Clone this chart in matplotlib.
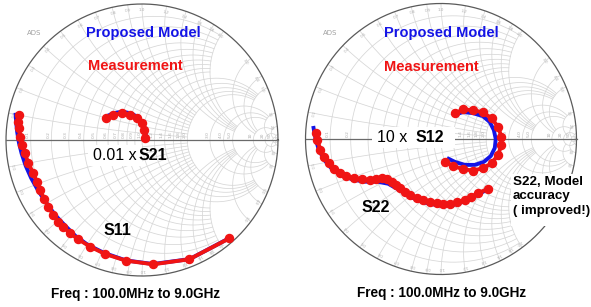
import numpy as np
import matplotlib
matplotlib.use('Agg')
import matplotlib.pyplot as plt
from matplotlib.patches import Rectangle

plt.rcParams['font.family'] = ['Liberation Sans', 'DejaVu Sans']

s11_meas_re = [-0.904, -0.910, -0.902, -0.897, -0.880, -0.860, -0.836, -0.799, -0.774, -0.750, -0.718, -0.689,
               -0.652, -0.615, -0.579, -0.529, -0.468, -0.382, -0.272, -0.118, 0.083, 0.348, 0.642]
s11_meas_im = [0.184, 0.135, 0.086, 0.024, -0.037, -0.098, -0.171, -0.245, -0.306, -0.368, -0.434, -0.490,
               -0.551, -0.601, -0.637, -0.686, -0.730, -0.784, -0.838, -0.887, -0.914, -0.877, -0.723]
s11_model_re = [-0.930, -0.925, -0.918, -0.905, -0.885, -0.855, -0.815, -0.765, -0.705, -0.640, -0.570, -0.490,
                -0.400, -0.280, -0.120, 0.080, 0.350, 0.645]
s11_model_im = [0.200, 0.130, 0.060, -0.020, -0.100, -0.190, -0.280, -0.370, -0.460, -0.550, -0.625, -0.705,
                -0.770, -0.830, -0.885, -0.912, -0.876, -0.720]

s21_meas_re = [-0.265, -0.211, -0.149, -0.088, -0.039, -0.002, 0.015, 0.022]
s21_meas_im = [0.160, 0.184, 0.196, 0.184, 0.160, 0.123, 0.074, 0.013]
s21_model_re = [-0.270, -0.210, -0.145, -0.080, -0.030, 0.005, 0.025, 0.030]
s21_model_im = [0.170, 0.197, 0.208, 0.196, 0.168, 0.128, 0.075, 0.020]

s22_meas_re = [-0.926, -0.912, -0.890, -0.860, -0.829, -0.787, -0.743, -0.700, -0.645, -0.581, -0.522, -0.480,
               -0.436, -0.400, -0.363, -0.330, -0.301, -0.265, -0.228, -0.180, -0.130, -0.080, -0.032, 0.015,
               0.066, 0.120, 0.176, 0.225, 0.274, 0.348]
s22_meas_im = [0.042, -0.007, -0.081, -0.132, -0.179, -0.221, -0.252, -0.272, -0.289, -0.298, -0.301, -0.296,
               -0.289, -0.298, -0.314, -0.337, -0.363, -0.390, -0.412, -0.432, -0.449, -0.462, -0.473, -0.480,
               -0.482, -0.468, -0.449, -0.425, -0.399, -0.368]
s22_model_re = [-0.943, -0.930, -0.905, -0.865, -0.810, -0.740, -0.650, -0.560, -0.470, -0.390, -0.310, -0.220,
                -0.120, -0.020, 0.080, 0.190, 0.290, 0.360]
s22_model_im = [0.096, 0.020, -0.070, -0.150, -0.215, -0.265, -0.300, -0.315, -0.315, -0.330, -0.375, -0.430,
                -0.470, -0.490, -0.490, -0.455, -0.400, -0.363]

s12_meas_re = [0.103, 0.164, 0.238, 0.311, 0.373, 0.421, 0.446, 0.446, 0.421, 0.373, 0.311, 0.238, 0.164, 0.090, 0.029]
s12_meas_im = [0.189, 0.218, 0.213, 0.196, 0.152, 0.090, 0.017, -0.044, -0.118, -0.179, -0.215, -0.233, -0.223,
               -0.199, -0.167]
s12_model_re = [0.096, 0.162, 0.235, 0.309, 0.360, 0.390, 0.404, 0.397, 0.368, 0.316, 0.250, 0.176, 0.103, 0.044]
s12_model_im = [0.176, 0.199, 0.191, 0.169, 0.125, 0.066, 0.000, -0.066, -0.125, -0.169, -0.191, -0.191, -0.169,
                -0.140]

# smith chart grid values (value list, limit of the other coordinate)
grid_sets = [(np.arange(1, 11) / 10, 2.0), ([1.2, 1.4, 1.6, 1.8, 2.0], 5.0), ([3, 4, 5], 10.0),
             ([10], 20.0), ([20], 50.0), ([50], 1e4)]
r_labels = ['0.1', '0.2', '0.3', '0.4', '0.5', '0.6', '0.7', '0.8', '0.9', '1.0', '1.2', '1.4', '1.6', '1.8',
            '2.0', '3.0', '4.0', '5.0', '10', '20', '50']

RED = '#f01414'
BLUE = '#1414e6'
W, H = 591, 307


def gamma(z):
    return (z - 1) / (z + 1)


def smith_grid(ax, skip=None):
    kw = dict(color='#d6d6d6', lw=0.55, zorder=1)
    for vals, lim in grid_sets:
        for v in vals:
            t = np.tan(np.linspace(-np.arctan(lim), np.arctan(lim), 300))
            g = gamma(v + 1j * t)
            ax.plot(g.real, g.imag, **kw)
            t = np.tan(np.linspace(0, np.arctan(lim), 300))
            for s in (1, -1):
                g = gamma(t + 1j * s * v)
                ax.plot(g.real, g.imag, **kw)
    # labels along the real axis and the rim
    for lab in r_labels:
        g = gamma(float(lab))
        if skip and skip[0] < g < skip[1]:
            continue
        ax.text(g - 0.02, 0.015, lab, fontsize=3.2, color='#ababab', rotation=90, ha='center', va='bottom',
                family='DejaVu Sans', zorder=2)
    for lab in r_labels[:-1]:
        for s in (1, -1):
            g = gamma(1j * s * float(lab)) * 0.955
            ang = np.degrees(np.arctan2(g.imag, g.real)) - 90
            ax.text(g.real, g.imag, lab, fontsize=3.0, color='#b2b2b2', rotation=ang, ha='center',
                    va='center', family='DejaVu Sans', zorder=2)
    th = np.linspace(0, 2 * np.pi, 400)
    ax.plot(np.cos(th), np.sin(th), color='#5a5a5a', lw=0.9, zorder=3)
    ax.plot([-1, 1], [0, 0], color='#6a6a6a', lw=0.9, zorder=3)


def panel(fig, left_px, width_px, cx, cy, R, skip=None):
    ax = fig.add_axes([left_px / W, 0, width_px / W, 1])
    ax.set_xlim((left_px - cx) / R, (left_px + width_px - cx) / R)
    ax.set_ylim((cy - H) / R, cy / R)
    ax.axis('off')
    smith_grid(ax, skip)
    return ax


def trace(ax, mre, mim, gre, gim):
    ax.plot(gre, gim, color=BLUE, lw=2.8, zorder=5, solid_capstyle='butt')
    ax.plot(mre, mim, color=RED, lw=2.8, marker='o', ms=5.8, zorder=6)


def headers(ax, ads_xy, pm_xy, me_xy, freq_xy):
    ax.text(*ads_xy, 'ADS', fontsize=5, color='#a0a0a0', ha='center', va='center', family='DejaVu Sans')
    ax.text(*pm_xy, 'Proposed Model', fontsize=10.5, color=BLUE, weight='bold', ha='center', va='center', zorder=8)
    ax.text(*me_xy, 'Measurement', fontsize=10.5, color=RED, weight='bold', ha='center', va='center', zorder=8)
    ax.text(*freq_xy, 'Freq : 100.0MHz to 9.0GHz', fontsize=9.8, weight='bold', ha='center', va='center',
            zorder=8)


fig = plt.figure(figsize=(W / 100, H / 100), dpi=100)

# left panel: S11 and S21
ax1 = panel(fig, 0, 295, 142, 140, 136)
ax1.add_patch(Rectangle((-0.40, -0.19), 0.40, 0.15, facecolor='white', edgecolor='none', zorder=4))
trace(ax1, s11_meas_re, s11_meas_im, s11_model_re, s11_model_im)
trace(ax1, s21_meas_re, s21_meas_im, s21_model_re, s21_model_im)
headers(ax1, (-0.794, 0.787), (0.011, 0.787), (-0.051, 0.542), (-0.051, -1.13))
ax1.text(-0.040, -0.115, '0.01 x', fontsize=11.5, ha='right', va='center', zorder=8)
ax1.text(-0.022, -0.115, 'S21', fontsize=11.5, weight='bold', ha='left', va='center', zorder=8)
ax1.text(-0.184, -0.662, 'S11', fontsize=11.5, weight='bold', ha='center', va='center', zorder=8)

# right panel: S22 and S12
ax2 = panel(fig, 295, 296, 441, 139, 135.5, skip=(-0.56, 0.12))
ax2.add_patch(Rectangle((-0.51, -0.07), 0.61, 0.16, facecolor='white', edgecolor='none', zorder=4))
trace(ax2, s22_meas_re, s22_meas_im, s22_model_re, s22_model_im)
trace(ax2, s12_meas_re, s12_meas_im, s12_model_re, s12_model_im)
headers(ax2, (-0.816, 0.779), (0.004, 0.779), (-0.074, 0.535), (0.007, -1.137))
ax2.text(-0.250, 0.012, '10 x', fontsize=11.5, ha='right', va='center', zorder=8)
ax2.text(-0.186, 0.012, 'S12', fontsize=11.5, weight='bold', ha='left', va='center', zorder=8)
ax2.text(-0.478, -0.507, 'S22', fontsize=11.5, weight='bold', ha='center', va='center', zorder=8)
ax2.add_patch(Rectangle((0.515, -0.64), 0.60, 0.38, facecolor='white', edgecolor='none', zorder=7,
                        clip_on=False))
ax2.text(0.529, -0.27, 'S22, Model\naccuracy\n( improved!)', fontsize=9.6, weight='bold', ha='left', va='top',
         linespacing=1.3, zorder=8)

fig.savefig('out.png', dpi=100)
